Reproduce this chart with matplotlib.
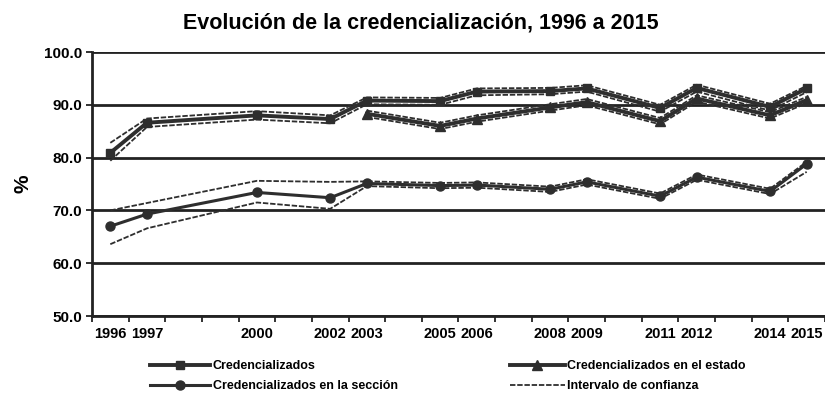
import matplotlib
matplotlib.use("Agg")
import matplotlib.pyplot as plt
from matplotlib.ticker import FixedLocator
import numpy as np

plt.rcParams['font.family'] = ['Liberation Sans', 'DejaVu Sans']

# data
years = [1996, 1997, 2000, 2002, 2003, 2005, 2006, 2008, 2009, 2011, 2012, 2014, 2015]
cred = [80.9, 86.6, 88.0, 87.3, 90.8, 90.7, 92.5, 92.6, 93.1, 89.4, 93.2, 89.6, 93.1]
cred_hi = [82.8, 87.4, 88.8, 88.0, 91.4, 91.3, 93.1, 93.2, 93.7, 90.0, 93.8, 90.2, 93.6]
cred_lo = [79.4, 85.8, 87.2, 86.5, 90.1, 90.0, 91.8, 92.0, 92.5, 88.7, 92.5, 88.9, 92.4]

years_est = [2003, 2005, 2006, 2008, 2009, 2011, 2012, 2014, 2015]
est = [88.3, 86.0, 87.4, 89.5, 90.5, 86.9, 91.2, 88.0, 90.9]
est_hi = [88.9, 86.6, 88.0, 90.1, 91.1, 87.5, 91.8, 88.6, 91.5]
est_lo = [87.7, 85.4, 86.8, 88.9, 89.9, 86.3, 90.6, 87.4, 90.3]

secc = [67.0, 69.3, 73.4, 72.4, 75.1, 74.7, 74.8, 74.0, 75.4, 72.7, 76.3, 73.6, 78.8]
secc_hi = [70.0, 71.4, 75.6, 75.4, 75.5, 75.2, 75.3, 74.5, 75.9, 73.2, 76.8, 74.1, 79.2]
secc_lo = [63.6, 66.6, 71.5, 70.3, 74.6, 74.2, 74.3, 73.5, 74.9, 72.2, 75.8, 73.1, 77.3]

col = '#2e2e2e'

fig = plt.figure(figsize=(8.25, 4), dpi=100)
ax = fig.add_axes([0.1115, 0.21, 0.8885, 0.66])

l1, = ax.plot(years, cred, color=col, lw=2.8, marker='s', ms=6, label='Credencializados')
l2, = ax.plot(years_est, est, color=col, lw=2.8, marker='^', ms=6.5, label='Credencializados en el estado')
l3, = ax.plot(years, secc, color=col, lw=2.2, marker='o', ms=6.5, label='Credencializados en la sección')
for x, hi, lo in [(years, cred_hi, cred_lo), (years_est, est_hi, est_lo), (years, secc_hi, secc_lo)]:
    l4, = ax.plot(x, hi, color=col, lw=1.3, ls=(0, (3, 1)), label='Intervalo de confianza')
    ax.plot(x, lo, color=col, lw=1.3, ls=(0, (3, 1)))

ax.set_xlim(1995.5, 2015.5)
ax.set_ylim(50, 100)
ax.set_yticks(np.arange(50, 101, 10))
ax.set_yticklabels(['%.1f' % v for v in np.arange(50, 101, 10)], fontsize=11, fontweight='bold')
ax.set_xticks(years)
ax.set_xticklabels([str(y) for y in years], fontsize=10.5, fontweight='bold')
ax.xaxis.set_minor_locator(FixedLocator(np.arange(1995.5, 2016, 1)))
ax.tick_params(axis='x', which='major', length=0, pad=8)
ax.tick_params(axis='x', which='minor', length=4, width=1.3, color='#222222', direction='out')
ax.tick_params(axis='y', length=4, width=1.3, color='#222222', pad=3)
ax.grid(axis='y', color='#222222', lw=2.0)
ax.set_axisbelow(True)
for s in ['top', 'right']:
    ax.spines[s].set_visible(False)
ax.spines['left'].set_linewidth(2)
ax.spines['bottom'].set_linewidth(2)
ax.spines['left'].set_color('#222222')
ax.spines['bottom'].set_color('#222222')

ax.set_ylabel('%', fontsize=15, fontweight='bold', labelpad=8)
fig.text(0.51, 0.942, 'Evolución de la credencialización, 1996 a 2015', ha='center', va='center',
         fontsize=15.5, fontweight='bold')

lg1 = fig.legend([l1, l3], [l1.get_label(), l3.get_label()], loc='upper left',
                 bbox_to_anchor=(0.182, 0.1), frameon=False, handlelength=4.8,
                 prop={'size': 9, 'weight': 'bold'}, labelspacing=0.65, handletextpad=0.2,
                 borderaxespad=0, borderpad=0)
lg2 = fig.legend([l2, l4], [l2.get_label(), l4.get_label()], loc='upper left',
                 bbox_to_anchor=(0.618, 0.1), frameon=False, handlelength=4.4,
                 prop={'size': 9, 'weight': 'bold'}, labelspacing=0.65, handletextpad=0.2,
                 borderaxespad=0, borderpad=0)

plt.savefig('out.png', dpi=100)
